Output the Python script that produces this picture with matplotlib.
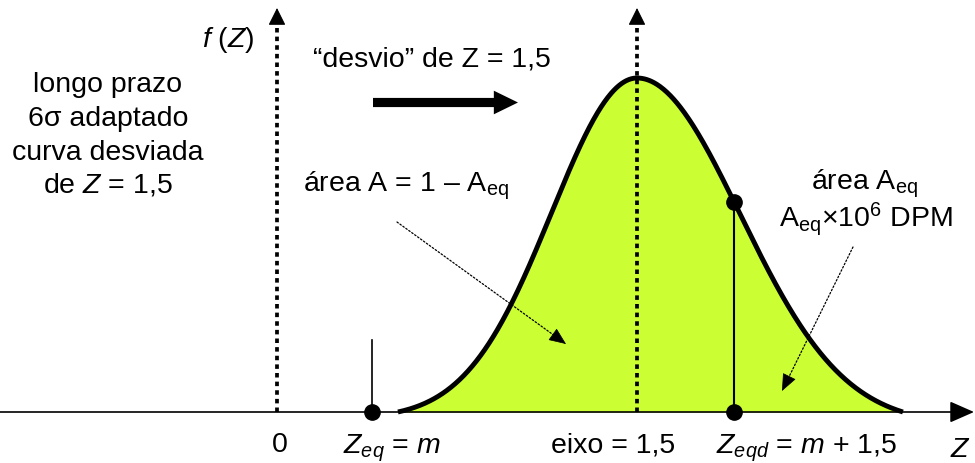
import numpy as np
import matplotlib
matplotlib.use('Agg')
import matplotlib.pyplot as plt

plt.rcParams['font.family'] = ['Liberation Sans', 'DejaVu Sans']
plt.rcParams['mathtext.fontset'] = 'custom'
plt.rcParams['mathtext.rm'] = 'Liberation Sans'
plt.rcParams['mathtext.it'] = 'Liberation Sans:italic'
plt.rcParams['mathtext.bf'] = 'Liberation Sans:bold'
plt.rcParams['mathtext.sf'] = 'Liberation Sans'

# ---------------- data ----------------
curve_center = 1.5        # eixo = 1,5 (shifted curve)
sigma_left = 0.355
sigma_right = 0.43
z_start = 0.504           # where the drawn curve begins
z_end = 2.608             # where the drawn curve ends
z_eq = 0.396              # Z_eq = m
z_eqd = 1.904             # Z_eqd = m + 1,5
z_axis = [0.0, 1.5]       # the two vertical (dotted) axes
zeq_tick_height = 0.216

left_lines = ["longo prazo", "6σ adaptado", "curva desviada", "de $Z$ = 1,5"]
bottom_labels = ["0", "$Z_{eq}$ = $m$", "eixo = 1,5", "$Z_{eqd}$ = $m$ + 1,5", "$Z$"]

# ---------------- figure ----------------
W, H = 975, 463
fig = plt.figure(figsize=(W / 100, H / 100), dpi=100)
ax = fig.add_axes([0, 0, 1, 1])
ax.set_xlim(-277 / 240, 698 / 240)
ax.set_ylim(-51 / 334, 412 / 334)
ax.axis('off')


def shape(z):
    z = np.asarray(z, dtype=float)
    s = np.where(z < curve_center, sigma_left, sigma_right)
    g = np.exp(-(z - curve_center) ** 2 / (2 * s ** 2))
    cl = np.exp(-(curve_center - z_start) ** 2 / (2 * sigma_left ** 2))
    cr = np.exp(-(z_end - curve_center) ** 2 / (2 * sigma_right ** 2))
    c = np.where(z < curve_center, cl, cr)
    return (g - c) / (1 - c)


z = np.linspace(z_start, z_end, 600)
f = shape(z)
f_eqd = float(shape(z_eqd))

ax.fill_between(z, 0, f, color='#CCFF33', lw=0, zorder=1)

# dotted vertical axes with arrowheads
top_shaft = (412 - 24) / 334
top_tip = (412 - 8) / 334
for za in z_axis:
    ax.plot([za, za], [0, top_shaft], color='k', lw=2.7,
            linestyle=(0, (1.2, 1.1)), dash_capstyle='butt', zorder=2)
    ax.annotate('', xy=(za, top_tip), xytext=(za, top_shaft + 0.005),
                arrowprops=dict(arrowstyle='-|>,head_length=0.9,head_width=0.45',
                                mutation_scale=12, color='k', lw=0.8,
                                shrinkA=0, shrinkB=0), zorder=3)

# curve outline
ax.plot(z, f, color='k', lw=3.5, solid_capstyle='butt', zorder=4)

# horizontal Z axis
ax.annotate('', xy=(697 / 240, 0), xytext=(-277 / 240, 0),
            arrowprops=dict(arrowstyle='-|>,head_length=1.25,head_width=0.55',
                            mutation_scale=12, color='k', lw=1.2,
                            shrinkA=0, shrinkB=0), zorder=3)

# Zeq marker line and Zeqd line
ax.plot([z_eq, z_eq], [0, zeq_tick_height], color='k', lw=1.2, zorder=5)
ax.plot([z_eqd, z_eqd], [0, f_eqd], color='k', lw=1.5, zorder=5)
ax.plot([z_eq, z_eqd, z_eqd], [0, 0, f_eqd], 'o', color='k', ms=11, zorder=6)


# ---------------- annotations (figure pixels) ----------------
def P(x, y):
    return (x, H - y)


# thick "desvio" arrow
ax.annotate('', xy=P(518, 102.5), xytext=P(373, 102.5), xycoords='figure pixels',
            textcoords='figure pixels',
            arrowprops=dict(arrowstyle='simple,head_length=0.87,head_width=0.85,tail_width=0.33',
                            mutation_scale=20, color='k', lw=0, shrinkA=0, shrinkB=0))


def dotted_arrow(x0, y0, x1, y1, head=15):
    d = np.hypot(x1 - x0, y1 - y0)
    ux, uy = (x1 - x0) / d, (y1 - y0) / d
    bx, by = x1 - ux * head, y1 - uy * head
    ax.annotate('', xy=P(bx, by), xytext=P(x0, y0), xycoords='figure pixels',
                textcoords='figure pixels',
                arrowprops=dict(arrowstyle='-', color='k', lw=0.9,
                                linestyle=(0, (1.3, 1.6)), shrinkA=0, shrinkB=0))
    ax.annotate('', xy=P(x1, y1), xytext=P(bx + ux * 0.5, by + uy * 0.5),
                xycoords='figure pixels', textcoords='figure pixels',
                arrowprops=dict(arrowstyle='-|>,head_length=1.0,head_width=0.42',
                                mutation_scale=11, color='k', lw=0.5,
                                shrinkA=0, shrinkB=0))


dotted_arrow(397, 222, 566, 344)
dotted_arrow(853, 247, 782, 391)

FS = 20.5


def T(x, y, s, ha='center', fs=FS):
    fig.text(x / W, 1 - y / H, s, ha=ha, va='baseline', fontsize=fs, color='k')


T(254, 47, "$f$ ($Z$)", ha='right')
for s, yb in zip(left_lines, [92, 126, 160, 193]):
    T(108, yb, s)
T(432, 67, "“desvio” de Z = 1,5")
T(303, 192, "área A = 1 – A$_{\\mathrm{eq}}$", ha='left')
T(865, 189, "área A$_{\\mathrm{eq}}$")
T(866, 227, "A$_{\\mathrm{eq}}$$\\times$10$^{\\mathrm{6}}$ DPM")

T(280, 452, bottom_labels[0])
T(343, 453, bottom_labels[1], ha='left')
T(613, 452, bottom_labels[2])
T(716, 453, bottom_labels[3], ha='left')
T(971, 457, bottom_labels[4], ha='right')

fig.savefig('out.png', dpi=100)
